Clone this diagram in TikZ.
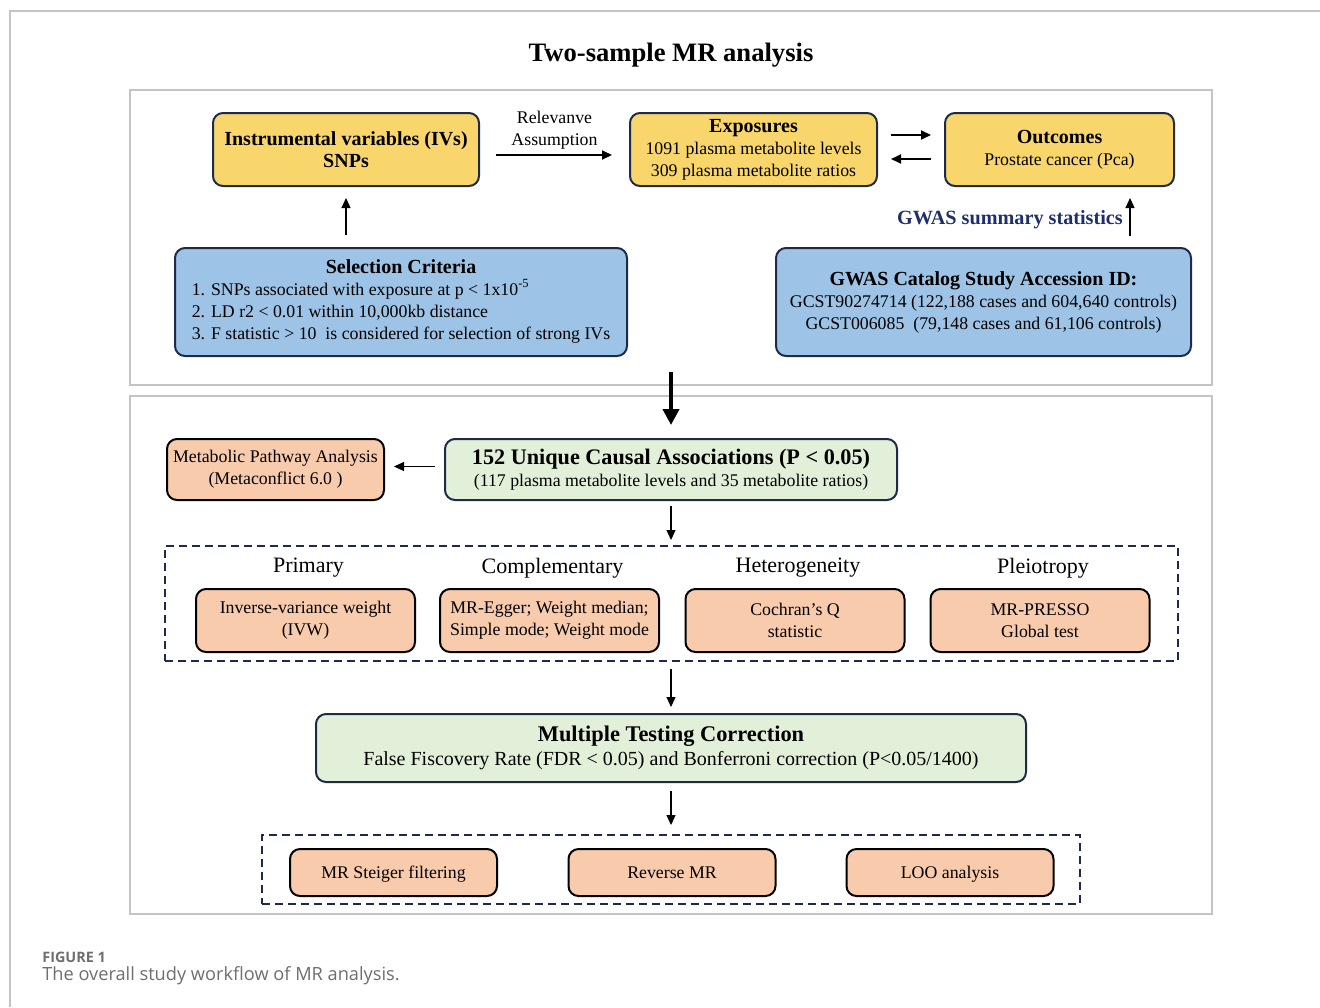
\documentclass[tikz,border=0pt]{standalone}
\usepackage{fontspec}
\setmainfont{Liberation Serif}
\newfontfamily\capfont{Open Sans}
\usepackage{xcolor}
\usetikzlibrary{arrows.meta, positioning, calc}

\definecolor{ivyellow}{HTML}{F9D66B}
\definecolor{ivblue}{HTML}{9DC3E6}
\definecolor{ivorange}{HTML}{F8CBAD}
\definecolor{ivgreen}{HTML}{E2F0D9}
\definecolor{boxnavy}{HTML}{1F2A48}
\definecolor{gwasnavy}{HTML}{1F2F6E}
\definecolor{panelgray}{HTML}{C4C4C4}
\definecolor{capgray}{HTML}{6E6E6E}

\newcommand{\boxtitle}[1]{{\bfseries\fontsize{10}{11}\selectfont #1}}

\begin{document}
\begin{tikzpicture}[
    x=0.5pt, y=-0.5pt,
    font=\fontsize{8.9}{11}\selectfont,
    box/.style={draw=boxnavy, line width=1pt, rounded corners=5pt, align=center, inner sep=2pt},
    ybox/.style={box, fill=ivyellow},
    bbox/.style={box, fill=ivblue},
    gbox/.style={box, fill=ivgreen},
    obox/.style={box, draw=black, fill=ivorange},
    panel/.style={draw=panelgray, line width=1pt},
    dashframe/.style={draw=boxnavy, line width=1pt, dash pattern=on 4pt off 2.5pt, inner sep=0pt},
    arr/.style={-{Triangle[length=5pt,width=4.5pt]}, line width=0.6pt},
    heading/.style={font=\fontsize{11}{12}\selectfont}
]
    \useasboundingbox (0,0) rectangle (1320,1007);

    % Page frame
    \draw[panelgray, line width=0.6pt] (1320,11) -- (10,11) -- (10,1007);

    % Title
    \node[font=\bfseries\fontsize{13.3}{15}\selectfont] (title) at (671,55) {Two-sample MR analysis};

    % Panels
    \draw[panel] (130,90) rectangle (1212,385);
    \draw[panel] (130,396) rectangle (1212,914);

    % Top row
    \node[ybox, minimum width=133pt, minimum height=36.5pt] (ivs) at (346,149.5)
        {\boxtitle{Instrumental variables (IVs)}\\\boxtitle{SNPs}};
    \node[ybox, minimum width=123.5pt, minimum height=36.5pt] (exp) at (753.5,149.5)
        {\boxtitle{Exposures}\\1091 plasma metabolite levels\\309 plasma metabolite ratios};
    \node[ybox, minimum width=114.5pt, minimum height=36.5pt] (out) at (1059.5,149.5)
        {\boxtitle{Outcomes}\\Prostate cancer (Pca)};

    % Data sources
    \node[bbox, minimum width=226pt, minimum height=54pt] (sel) at (401,302)
        {\begin{tabular}{@{}l@{}}
         \multicolumn{1}{c}{\boxtitle{Selection Criteria}}\\
         1. SNPs associated with exposure at p < 1x10\textsuperscript{-5}\\
         2. LD r2 < 0.01 within 10,000kb distance\\
         3. F statistic > 10\ \ is considered for selection of strong IVs
         \end{tabular}};
    \node[bbox, minimum width=207.5pt, minimum height=54pt] (gwas) at (983.5,302)
        {\boxtitle{GWAS Catalog Study Accession ID:}\\
         GCST90274714 (122,188 cases and 604,640 controls)\\
         GCST006085\ \ (79,148 cases and 61,106 controls)};

    % Top arrows
    \draw[arr, line width=0.9pt, shorten <=8pt, shorten >=8.5pt] ([yshift=-2.75pt]ivs.east) -- ([yshift=-2.75pt]exp.west)
        node[midway, above=-1pt, align=center] (relev) {Relevanve\\Assumption};
    \draw[arr, line width=0.9pt, shorten <=6.5pt, shorten >=6.5pt] ([yshift=7.25pt]exp.east) -- ([yshift=7.25pt]out.west);
    \draw[arr, line width=0.9pt, shorten <=6.5pt, shorten >=6.5pt] ([yshift=-4.75pt]out.west) -- ([yshift=-4.75pt]exp.east);
    \draw[arr, shorten <=6pt, shorten >=5.5pt] (sel.north -| ivs.south) -- (ivs.south);
    \coordinate (gx) at (1130,0);
    \draw[arr, shorten <=5.5pt, shorten >=5.5pt] (gwas.north -| gx) -- (out.south -| gx)
        node[midway, left=0pt, yshift=-1.5pt, text=gwasnavy, font=\bfseries\fontsize{10.1}{11}\selectfont] (gsum) {GWAS summary statistics};

    % Panel link
    \coordinate (link) at (671,372);
    \node[gbox, minimum width=226pt, minimum height=30.5pt] (uca) at (671,469.5)
        {{\bfseries\fontsize{11.1}{12}\selectfont 152 Unique Causal Associations (P < 0.05)}\\
         (117 plasma metabolite levels and 35 metabolite ratios)};
    \draw[-{Triangle[length=8pt,width=8pt]}, line width=2pt, shorten >=6.5pt] (link) -- (uca.north);

    \node[obox, minimum width=108.5pt, minimum height=30.5pt] (met) at (275.5,469.5)
        {Metabolic Pathway Analysis\\(Metaconflict 6.0 )};
    \draw[arr, shorten <=4.5pt, shorten >=4.5pt] ([yshift=1.5pt]uca.west) -- ([yshift=1.5pt]met.east |- uca.west);

    % MR methods
    \node[dashframe, minimum width=506.5pt, minimum height=57.5pt] (methods) at (671.5,603.5) {};
    \draw[arr, shorten <=2.5pt, shorten >=2.5pt] (uca.south) -- (methods.north -| uca.south);

    \foreach \name/\cx/\head/\body in {
        ivw/305.5/Primary/{Inverse-variance weight\\(IVW)},
        comp/549.5/Complementary/{MR-Egger; Weight median;\\Simple mode; Weight mode},
        het/795/Heterogeneity/{Cochran’s Q\\statistic},
        plei/1040/Pleiotropy/{MR-PRESSO\\Global test}} {
        \node[obox, minimum width=109.5pt, minimum height=31.5pt] (\name) at (\cx,620.5) {\body};
        \node[heading] (\name-head) at (\cx+3,568) {\head};
    }

    % Correction
    \node[gbox, minimum width=355pt, minimum height=34pt] (mtc) at (671,748)
        {{\bfseries\fontsize{11.2}{12}\selectfont Multiple Testing Correction}\\[1pt]
         {\fontsize{10}{11}\selectfont False Fiscovery Rate (FDR < 0.05) and Bonferroni correction (P<0.05/1400)}};
    \draw[arr, shorten <=3.5pt, shorten >=3pt] (methods.south -| mtc.north) -- (mtc.north);

    % Sensitivity
    \node[dashframe, minimum width=409pt, minimum height=34.5pt] (sens) at (671,869.5) {};
    \draw[arr, shorten <=4pt, shorten >=4.5pt] (mtc.south) -- (sens.north -| mtc.south);
    \foreach \name/\cx/\body in {steiger/393.5/MR Steiger filtering, rev/672/Reverse MR, loo/950/LOO analysis} {
        \node[obox, minimum width=103.5pt, minimum height=23.5pt, text height=1.6ex, text depth=0.4ex] (\name) at (\cx,872.5) {\body};
    }

    % Caption
    \node[anchor=west, inner sep=0pt, text=capgray, font=\capfont\bfseries\fontsize{7.2}{8}\selectfont] (fig) at (42,957) {FIGURE 1};
    \node[anchor=west, inner sep=0pt, text=capgray, font=\capfont\fontsize{9.1}{10}\selectfont] (cap) at (42,976) {The overall study workflow of MR analysis.};

\end{tikzpicture}
\end{document}
